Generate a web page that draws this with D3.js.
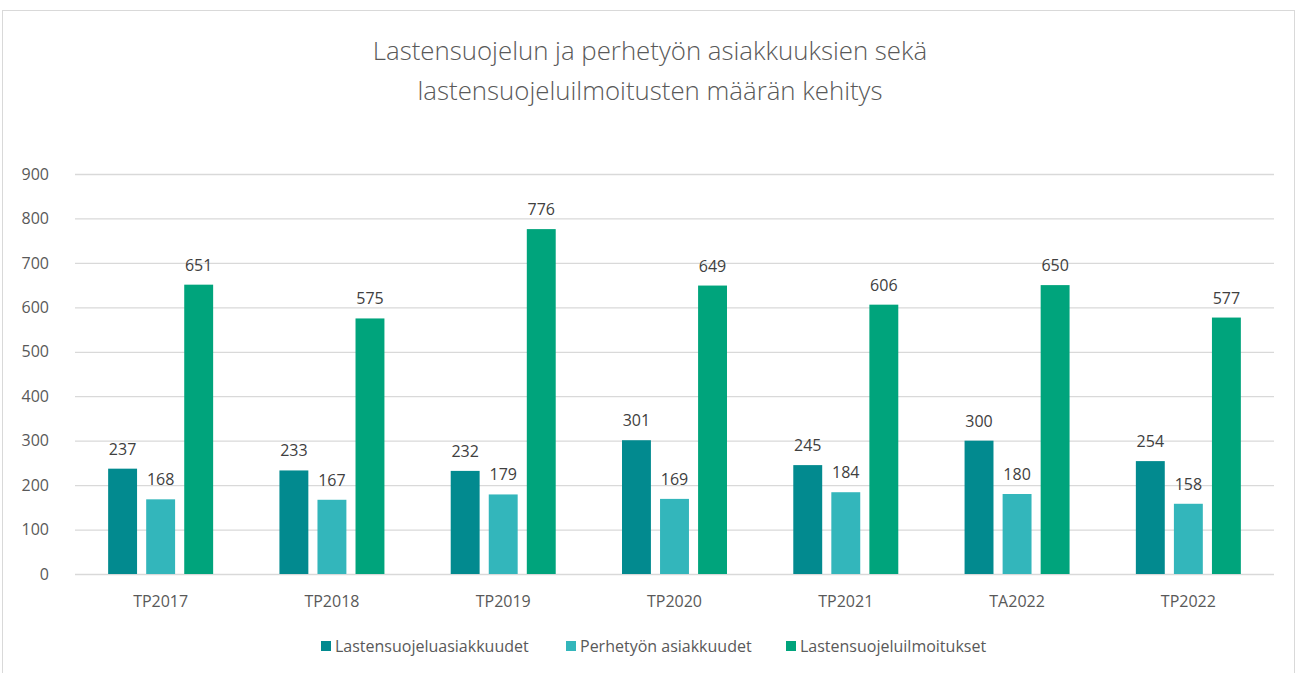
<!DOCTYPE html>
<html><head><meta charset="utf-8">
<script src="https://cdn.jsdelivr.net/npm/d3@7"></script>
<style>body{margin:0;background:#fff;} svg{display:block;font-family:"Open Sans","Noto Sans",sans-serif;}</style>
</head><body><svg id="c" width="1297" height="673"></svg>
<script>
const categories = ["TP2017","TP2018","TP2019","TP2020","TP2021","TA2022","TP2022"];
const seriesNames = ["Lastensuojeluasiakkuudet","Perhetyön asiakkuudet","Lastensuojeluilmoitukset"];
const lastensuojelu = [237,233,232,301,245,300,254];
const perhetyo = [168,167,179,169,184,180,158];
const ilmoitukset = [651,575,776,649,606,650,577];
const yTicks = [0,100,200,300,400,500,600,700,800,900];
const colors = ["#028A8F","#33B6BB","#00A47C"];
const titleLines = ["Lastensuojelun ja perhetyön asiakkuuksien sekä","lastensuojeluilmoitusten määrän kehitys"];

const series = [lastensuojelu, perhetyo, ilmoitukset];
const svg = d3.select("#c");
svg.append("rect").attr("x",2.5).attr("y",10.5).attr("width",1292).attr("height",670)
  .attr("fill","#fff").attr("stroke","#d9d9d9");

const m = {left:75, right:1274, top:174, bottom:574};
const x = d3.scaleBand().domain(categories).range([m.left,m.right]);
const y = d3.scaleLinear().domain([0,900]).range([m.bottom,m.top]);
const inner = d3.scaleBand().domain(d3.range(3)).range([0,105]).paddingInner(0.24);

// grid
svg.append("g").selectAll("line").data(yTicks).join("line")
  .attr("x1",m.left).attr("x2",m.right).attr("y1",d=>y(d)+0.5).attr("y2",d=>y(d)+0.5)
  .attr("stroke","#d9d9d9").attr("stroke-width",1.3);

// y axis labels
const ya = svg.append("g").attr("transform",`translate(${m.left-26},0)`)
  .call(d3.axisLeft(y).tickValues(yTicks).tickSize(0).tickPadding(0));
ya.attr("font-family",null).attr("font-size",null);
ya.select(".domain").remove();
ya.selectAll("text").attr("font-size",16).attr("fill","#595959");

// x axis labels
const xa = svg.append("g").attr("transform",`translate(0,${m.bottom})`)
  .call(d3.axisBottom(x).tickSize(0).tickPadding(22));
xa.attr("font-family",null).attr("font-size",null);
xa.select(".domain").remove();
xa.selectAll("text").attr("font-size",16).attr("fill","#595959");

// bars
categories.forEach((c,i)=>{
  const gx = x(c) + x.bandwidth()/2 - 52.5;
  series.forEach((s,j)=>{
    const bx = gx + inner(j);
    svg.append("rect").attr("x",bx).attr("y",y(s[i])).attr("width",inner.bandwidth())
      .attr("height",y(0)-y(s[i])).attr("fill",colors[j]);
    svg.append("text").attr("x",bx+inner.bandwidth()/2).attr("y",y(s[i])-14)
      .attr("text-anchor","middle").attr("font-size",16).attr("fill","#404040").text(s[i]);
  });
});

// title
svg.append("g").selectAll("text").data(titleLines).join("text")
  .attr("x",650).attr("y",(d,i)=>60+i*40).attr("text-anchor","middle")
  .attr("font-size",25.8).attr("fill","#595959").attr("font-weight",300).text(d=>d);

// legend
const legX = [321,566,786];
seriesNames.forEach((n,j)=>{
  svg.append("rect").attr("x",legX[j]).attr("y",641).attr("width",10).attr("height",10).attr("fill",colors[j]);
  svg.append("text").attr("x",legX[j]+14).attr("y",652).attr("font-size",16).attr("fill","#595959").text(n);
});
</script></body></html>
